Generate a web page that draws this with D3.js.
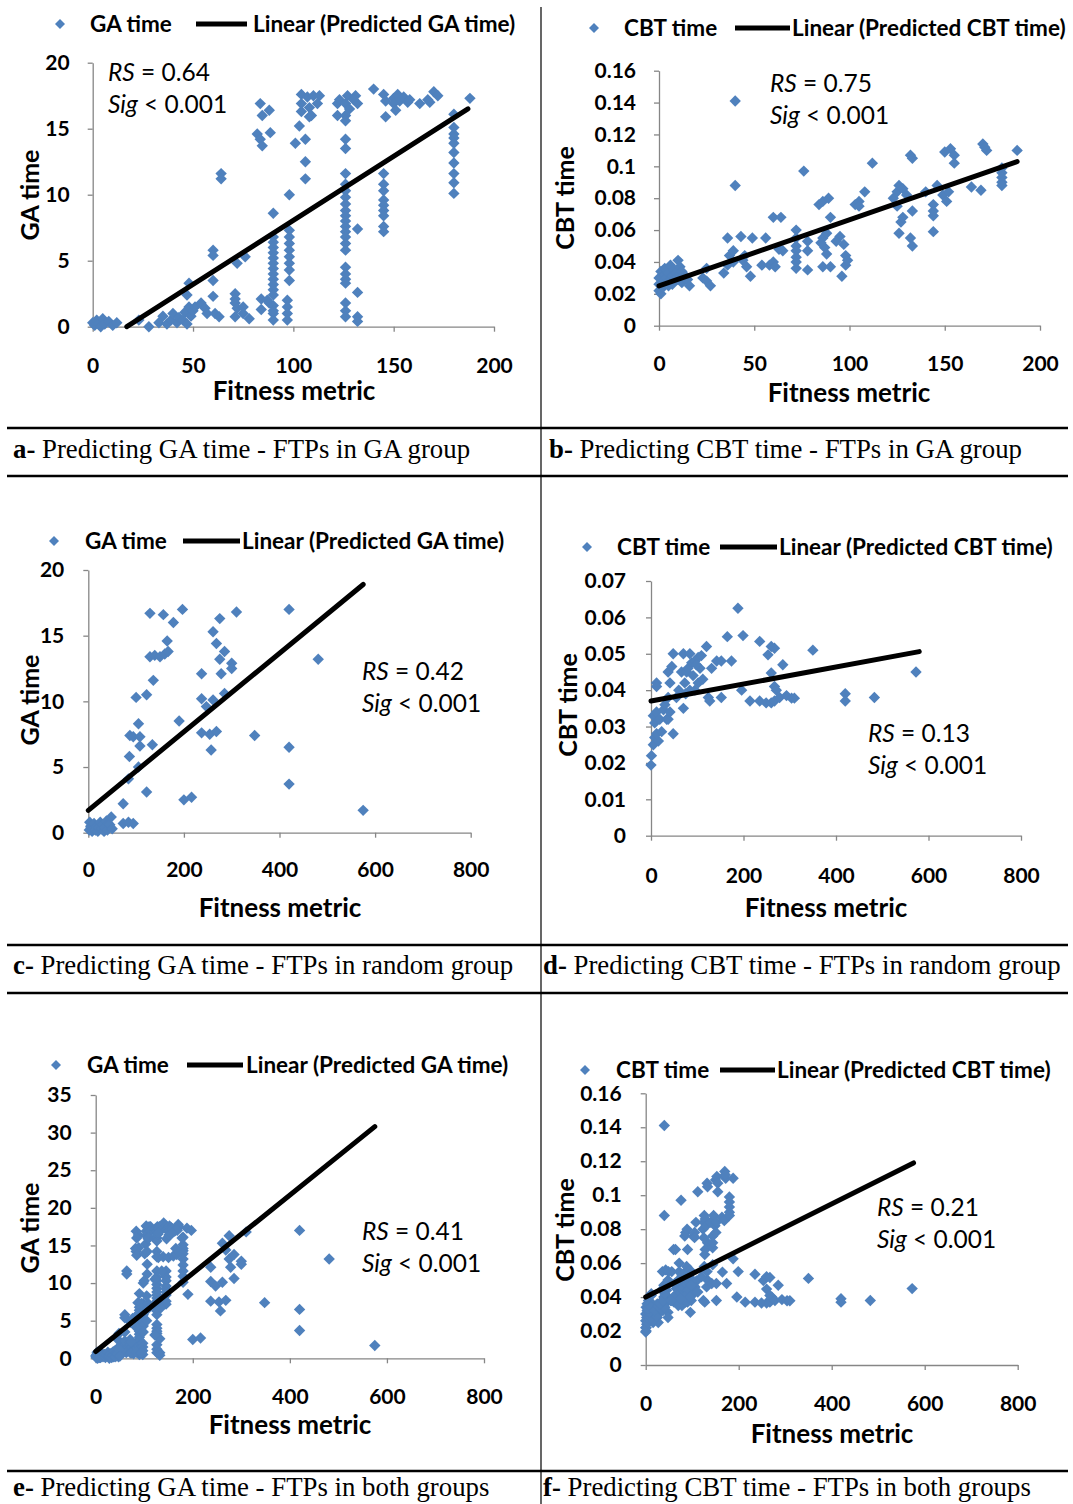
<!DOCTYPE html>
<html>
<head>
<meta charset="utf-8">
<script src="https://cdn.jsdelivr.net/npm/d3@7"></script>
<style>
  body { margin: 0; background: #fff; }
  svg { display: block; }
</style>
</head>
<body>
<svg id="fig" width="1073" height="1504"></svg>
<script>
// ---- Observed run times vs. fitness metric, FTPs in the GA group ----
const gaTimeGAGroup = [
  [0,0.3],[1,0.1],[2,0.5],[3,0.2],[4,0.0],[5,0.6],[6,0.2],[8,0.4],[10,0.1],[12,0.3],
  [23,0.5],[28,0.0],
  [33,0.3],[35,0.8],[37,0.2],[39,0.5],[40,1.0],[42,0.3],[43,0.7],[45,0.5],[46,1.1],[47,0.2],[47,2.4],[48,3.3],[48,1.5],[49,0.8],[50,1.2],[51,1.5],
  [54,1.8],[56,1.4],[57,1.0],[60,3.5],[60,2.3],[60,5.8],[60,5.4],[61,1.0],[63,0.75],[64,11.6],[64,11.2],
  [71,2.5],[71,2.1],[71,1.8],[72,1.4],[71,0.75],[72,4.8],[75,1.5],[75,1.0],[76,5.3],[78,0.6],
  [84,2.1],[84,1.3],[87,2.0],[88,1.8],[90,1.0],[90,0.5],
  [83.5,16.9],[88,16.4],[84.5,16.0],[82,14.6],[88.5,14.7],[83.5,14.2],[84.5,13.7],
  [90,8.6],[90,6.8],[90,6.4],[90,6.0],[90,5.6],[90,5.2],[90,4.8],[90,4.4],[90,4.0],[90,3.6],[90,3.2],[90,2.8],[90,2.4],[90,1.6],[90,1.2],
  [98,10.0],[98,7.3],[98,6.8],[98,6.3],[98,5.8],[98,5.3],[98,4.8],[98,4.3],[98,3.5],[97,2.0],[97,1.5],[97,1.0],[97,0.5],
  [101,13.9],[103,15.2],[104,16.3],[104,17.6],[104,16.9],[106,14.2],[106,12.5],[106,11.2],[107,17.4],[108,16.6],[108,15.9],[110,17.5],[113,17.5],[112,16.9],[109,16.0],
  [122,16.9],[122,16.0],[123,17.2],[127,17.5],[126,16.9],[126,16.0],[126,15.6],[126,14.2],[126,13.5],[131,17.5],[132,16.9],[130,17.2],[128,16.5],
  [126,11.6],[126,10.8],[126,10.3],[126,9.8],[126,9.3],[126,8.8],[126,8.4],[126,8.0],[126,7.6],[126,7.2],[126,6.8],[126,6.3],[126,5.8],[126,4.5],[126,4.0],[126,3.6],[126,3.3],[126,1.8],[126,1.2],[126,0.75],
  [132,7.4],[132,2.6],[132,0.75],[132,0.4],
  [140,18.0],
  [145,11.6],[145,10.8],[145,10.3],[145,9.6],[145,9.2],[145,8.8],[145,8.4],[145,7.6],[145,7.2],[146,15.9],[145,17.6],[146,17.1],
  [150,17.3],[152,17.6],[153,17.1],[155,17.4],[157,17.0],[150,16.9],[151,16.4],[158,17.2],
  [163,16.9],[167,17.2],[170,17.8],[172,17.5],[168,17.0],
  [180,16.1],[180,15.1],[180,14.6],[180,14.3],[180,13.9],[180,13.2],[180,12.4],[180,11.6],[180,10.9],[180,10.1],
  [188,17.3]
];

const cbtTimeGAGroup = [
  [0,0.022],[0,0.026],[0,0.030],[1,0.034],[1,0.020],[2,0.028],[2,0.024],[3,0.032],[3,0.036],[4,0.027],
  [4,0.030],[5,0.025],[5,0.033],[6,0.038],[6,0.029],[7,0.031],[7,0.026],[8,0.035],[8,0.028],[9,0.033],
  [9,0.030],[10,0.041],[10,0.029],[11,0.037],[11,0.032],[12,0.034],[12,0.027],[13,0.030],[14,0.031],[15,0.029],[16,0.025],
  [23,0.030],[25,0.028],[27,0.025],[25,0.036],
  [34,0.033],[36,0.038],[36,0.055],[37,0.044],[39,0.047],[39,0.040],[40,0.141],[40,0.088],
  [43,0.056],[44,0.041],[46,0.037],[48,0.031],[49,0.055],[45,0.044],
  [54,0.038],[56,0.055],[58,0.038],[60,0.040],[61,0.037],[60,0.068],[64,0.068],[63,0.048],[65,0.047],
  [72,0.060],[72,0.055],[72,0.050],[72,0.047],[72,0.043],[72,0.040],[72,0.036],
  [76,0.097],[78,0.053],[78,0.047],[78,0.035],
  [84,0.076],[86,0.078],[89,0.080],[86,0.055],[87,0.049],[88,0.045],[86,0.037],[90,0.037],[90,0.068],[88,0.058],[85,0.052],
  [95,0.056],[97,0.051],[98,0.044],[98,0.038],[96,0.031],[93,0.053],[99,0.041],
  [103,0.076],[105,0.078],[105,0.075],[108,0.084],[112,0.102],
  [123,0.080],[125,0.084],[126,0.088],[128,0.086],[127,0.065],[126,0.058],[133,0.072],[132,0.055],[133,0.050],[125,0.075],[130,0.082],[128,0.068],
  [132,0.107],[133,0.105],
  [140,0.084],[144,0.076],[144,0.069],[144,0.059],[146,0.088],[144,0.072],
  [149,0.082],[152,0.084],[150,0.109],[153,0.111],[155,0.107],[155,0.102],[151,0.078],
  [164,0.087],[169,0.085],[170,0.114],[172,0.110],[171,0.112],
  [180,0.099],[180,0.096],[180,0.093],[180,0.090],[180,0.088],
  [188,0.110]
];

// ---- FTPs in the random group ----
const gaTimeRandomGroup = [
  [2,0.2],[3,0.8],[5,0.5],[6,0.4],[8,0.1],[10,0.3],[12,0.7],[15,0.2],[18,0.5],[20,0.1],[22,0.4],[25,0.8],
  [28,0.3],[30,0.6],[33,0.1],[35,0.4],[38,0.9],[40,0.2],[42,0.7],[45,0.6],[48,1.2],[50,0.3],
  [73,0.7],[84,0.8],[94,0.7],[73,2.2],[86,5.8],[84,4.1],[87,7.4],[94,7.3],[108,7.3],[105,8.3],[108,6.6],[105,5.0],
  [100,10.3],[122,10.5],[122,3.1],[136,11.6],[134,6.7],[129,13.4],[139,13.5],[150,13.4],[160,13.6],[167,13.8],
  [165,14.6],[178,16.0],[129,16.7],[157,16.6],[197,17.0],[190,8.5],[200,2.5],[216,2.7],
  [237,12.1],[237,10.2],[237,7.6],[247,9.6],[254,7.5],[268,7.7],[257,6.3],[261,15.3],[261,10.1],[268,14.4],
  [275,16.3],[275,13.2],[278,12.1],[285,13.8],[285,10.6],[300,12.9],[300,12.5],[310,16.8],[348,7.4],
  [420,17.0],[420,6.5],[420,3.7],[481,13.2],[575,1.7]
];

const cbtTimeRandomGroup = [
  [0,0.0194],[1,0.022],[5,0.025],[8,0.027],[16,0.026],[12,0.028],[23,0.0286],[8,0.031],[5,0.033],[12,0.034],
  [19,0.032],[34,0.032],[27,0.0346],[37,0.032],[41,0.034],[12,0.042],[12,0.041],[48,0.028],[30,0.036],[37,0.038],
  [41,0.042],[37,0.045],[45,0.0465],[48,0.050],[70,0.050],[84,0.050],
  [66,0.045],[73,0.042],[77,0.045],[80,0.046],[88,0.0475],[95,0.048],[102,0.049],[109,0.0495],[91,0.044],[102,0.042],
  [84,0.040],[70,0.035],[95,0.040],[106,0.046],[60,0.040],[55,0.038],[75,0.039],[98,0.047],[112,0.043],
  [120,0.052],[124,0.038],[127,0.037],[131,0.046],[142,0.048],[152,0.048],[174,0.048],[152,0.038],[165,0.0547],
  [188,0.0625],[196,0.040],[199,0.055],[214,0.037],[235,0.0534],[235,0.037],[249,0.0365],[260,0.0365],[267,0.037],
  [253,0.0497],[260,0.052],[267,0.0515],[260,0.0447],[267,0.041],[271,0.040],[278,0.038],[293,0.0385],[304,0.0378],
  [310,0.0378],[285,0.047],[350,0.051],[420,0.039],[420,0.037],[483,0.038],[573,0.045]
];

// ---- Both groups together ----
const gaTimeBothGroups = gaTimeGAGroup.concat(gaTimeRandomGroup);
const cbtTimeBothGroups = cbtTimeGAGroup.concat(cbtTimeRandomGroup);

// Linear trend of predicted times: visible start and end points
const trendGAGroupGA = [[17,0],[187,16.5]];
const trendGAGroupCBT = [[0,0.025],[188,0.103]];
const trendRandomGA = [[0,1.7],[575,18.9]];
const trendRandomCBT = [[0,0.037],[580,0.0506]];
const trendBothGA = [[0,0.9],[575,30.8]];
const trendBothCBT = [[0,0.040],[576,0.119]];

// Axis ticks and their labels
const xTicksGA = [0,50,100,150,200];
const xTickLabelsGA = ["0","50","100","150","200"];
const xTicksWide = [0,200,400,600,800];
const xTickLabelsWide = ["0","200","400","600","800"];
const yTicksGA20 = [0,5,10,15,20];
const yTickLabelsGA20 = ["0","5","10","15","20"];
const yTicksGA35 = [0,5,10,15,20,25,30,35];
const yTickLabelsGA35 = ["0","5","10","15","20","25","30","35"];
const yTicksCBT16 = [0,0.02,0.04,0.06,0.08,0.1,0.12,0.14,0.16];
const yTickLabelsCBT16 = ["0","0.02","0.04","0.06","0.08","0.1","0.12","0.14","0.16"];
const yTicksCBT07 = [0,0.01,0.02,0.03,0.04,0.05,0.06,0.07];
const yTickLabelsCBT07 = ["0","0.01","0.02","0.03","0.04","0.05","0.06","0.07"];

// Regression statistics per panel
const rsValues = ["0.64","0.75","0.42","0.13","0.41","0.21"];
const sigValues = ["0.001","0.001","0.001","0.001","0.001","0.001"];

// Panel captions
const captionLetters = ["a-","b-","c-","d-","e-","f-"];
const captionTexts = [
  " Predicting GA time - FTPs in GA group",
  " Predicting CBT time - FTPs in GA group",
  " Predicting GA time - FTPs in random group",
  " Predicting CBT time - FTPs in random group",
  " Predicting GA time - FTPs in both groups",
  " Predicting CBT time - FTPs in both groups"
];

const BLUE = "#4F81BD";
const AXIS = "#868686";
const SANS = "Lato, 'Open Sans', sans-serif";
const SERIF = "'Liberation Serif', 'Times New Roman', serif";

const svg = d3.select("#fig");

const panels = [
  { data: gaTimeGAGroup, trend: trendGAGroupGA, series: "GA time", ytitle: "GA time",
    xDomain: [0,200], xTicks: xTicksGA, xLabels: xTickLabelsGA,
    yDomain: [0,20], yTicks: yTicksGA20, yLabels: yTickLabelsGA20,
    left: 92.7, right: 494, top: 62.7, bottom: 326.7, xPad: 26, yPad: 18,
    legend: { y: 24, dot: 60, s1: 90, l0: 196, l1: 247, s2: 253 },
    xTitle: [294, 400], yTitle: [30, 195], stat: [108, 81], cap: [13, 458] },
  { data: cbtTimeGAGroup, trend: trendGAGroupCBT, series: "CBT time", ytitle: "CBT time",
    xDomain: [0,200], xTicks: xTicksGA, xLabels: xTickLabelsGA,
    yDomain: [0,0.16], yTicks: yTicksCBT16, yLabels: yTickLabelsCBT16,
    left: 659, right: 1040, top: 70.7, bottom: 325.7, xPad: 25, yPad: 18,
    legend: { y: 28, dot: 594, s1: 624, l0: 735, l1: 790, s2: 792 },
    xTitle: [849, 402], yTitle: [565, 198], stat: [770, 92], cap: [549, 458] },
  { data: gaTimeRandomGroup, trend: trendRandomGA, series: "GA time", ytitle: "GA time",
    xDomain: [0,800], xTicks: xTicksWide, xLabels: xTickLabelsWide,
    yDomain: [0,20], yTicks: yTicksGA20, yLabels: yTickLabelsGA20,
    left: 88.3, right: 470.7, top: 570, bottom: 832.7, xPad: 24, yPad: 19,
    legend: { y: 541, dot: 54, s1: 85, l0: 183, l1: 240, s2: 242 },
    xTitle: [280, 917], yTitle: [30, 700], stat: [362, 680], cap: [13, 974] },
  { data: cbtTimeRandomGroup, trend: trendRandomCBT, series: "CBT time", ytitle: "CBT time",
    xDomain: [0,800], xTicks: xTicksWide, xLabels: xTickLabelsWide,
    yDomain: [0,0.07], yTicks: yTicksCBT07, yLabels: yTickLabelsCBT07,
    left: 651, right: 1021, top: 581, bottom: 835.7, xPad: 27, yPad: 20,
    legend: { y: 547, dot: 587, s1: 617, l0: 720, l1: 777, s2: 779 },
    xTitle: [826, 917], yTitle: [568, 705], stat: [868, 742], cap: [543, 974] },
  { data: gaTimeBothGroups, trend: trendBothGA, series: "GA time", ytitle: "GA time",
    xDomain: [0,800], xTicks: xTicksWide, xLabels: xTickLabelsWide,
    yDomain: [0,35], yTicks: yTicksGA35, yLabels: yTickLabelsGA35,
    left: 95.7, right: 484, top: 1095, bottom: 1358.3, xPad: 26, yPad: 19,
    legend: { y: 1065, dot: 56, s1: 87, l0: 187, l1: 243, s2: 246 },
    xTitle: [290, 1434], yTitle: [30, 1228], stat: [362, 1240], cap: [13, 1496] },
  { data: cbtTimeBothGroups, trend: trendBothCBT, series: "CBT time", ytitle: "CBT time",
    xDomain: [0,800], xTicks: xTicksWide, xLabels: xTickLabelsWide,
    yDomain: [0,0.16], yTicks: yTicksCBT16, yLabels: yTickLabelsCBT16,
    left: 645.7, right: 1017.7, top: 1093.3, bottom: 1365, xPad: 26, yPad: 19,
    legend: { y: 1070, dot: 585, s1: 616, l0: 720, l1: 775, s2: 777 },
    xTitle: [832, 1443], yTitle: [565, 1230], stat: [877, 1216], cap: [543, 1496] }
];

// Excel-style diamond marker
const diamond = r => `M0,${-r}L${r},0L0,${r}L${-r},0Z`;

function styleAxis(sel) {
  sel.select(".domain").attr("stroke", AXIS).attr("stroke-width", 1.3);
  sel.selectAll(".tick line").attr("stroke", AXIS).attr("stroke-width", 1.3);
  sel.selectAll(".tick text")
    .attr("fill", "#000")
    .style("font-family", SANS)
    .style("font-size", "21px")
    .style("font-weight", "700");
}

panels.forEach((p, i) => {
  const x = d3.scaleLinear().domain(p.xDomain).range([p.left, p.right]);
  const y = d3.scaleLinear().domain(p.yDomain).range([p.bottom, p.top]);
  const g = svg.append("g").attr("class", "panel");

  g.append("g")
    .attr("transform", `translate(0,${p.bottom})`)
    .call(d3.axisBottom(x).tickValues(p.xTicks).tickFormat((d, k) => p.xLabels[k])
      .tickSizeInner(5).tickSizeOuter(0).tickPadding(p.xPad))
    .call(styleAxis);

  g.append("g")
    .attr("transform", `translate(${p.left},0)`)
    .call(d3.axisLeft(y).tickValues(p.yTicks).tickFormat((d, k) => p.yLabels[k])
      .tickSizeInner(5).tickSizeOuter(0).tickPadding(p.yPad))
    .call(styleAxis);

  // observations
  g.append("g").selectAll("path").data(p.data).join("path")
    .attr("d", diamond(5.7))
    .attr("transform", d => `translate(${x(d[0])},${y(d[1])})`)
    .attr("fill", BLUE);

  // linear trend
  g.append("line")
    .attr("x1", x(p.trend[0][0])).attr("y1", y(p.trend[0][1]))
    .attr("x2", x(p.trend[1][0])).attr("y2", y(p.trend[1][1]))
    .attr("stroke", "#000").attr("stroke-width", 5).attr("stroke-linecap", "round");

  // legend
  const L = p.legend;
  const lg = g.append("g").style("font-family", SANS).style("font-size", "22.5px").style("font-weight", "700");
  lg.append("path").attr("d", diamond(5)).attr("transform", `translate(${L.dot},${L.y})`).attr("fill", BLUE);
  lg.append("text").attr("x", L.s1).attr("y", L.y).attr("dy", "0.35em").text(p.series);
  lg.append("line").attr("x1", L.l0).attr("x2", L.l1).attr("y1", L.y).attr("y2", L.y)
    .attr("stroke", "#000").attr("stroke-width", 5);
  lg.append("text").attr("x", L.s2).attr("y", L.y).attr("dy", "0.35em")
    .text(`Linear (Predicted ${p.series})`);

  // axis titles
  g.append("text").attr("x", p.xTitle[0]).attr("y", p.xTitle[1]).attr("text-anchor", "middle")
    .style("font-family", SANS).style("font-size", "26px").style("font-weight", "700")
    .text("Fitness metric");
  g.append("text")
    .attr("transform", `translate(${p.yTitle[0]},${p.yTitle[1]}) rotate(-90)`)
    .attr("text-anchor", "middle").attr("dy", "0.35em")
    .style("font-family", SANS).style("font-size", "25px").style("font-weight", "700")
    .text(p.ytitle);

  // regression statistics
  const st = g.append("g").style("font-family", SANS).style("font-size", "24.5px");
  const t1 = st.append("text").attr("x", p.stat[0]).attr("y", p.stat[1]);
  t1.append("tspan").style("font-style", "italic").text("RS");
  t1.append("tspan").text(` = ${rsValues[i]}`);
  const t2 = st.append("text").attr("x", p.stat[0]).attr("y", p.stat[1] + 32);
  t2.append("tspan").style("font-style", "italic").text("Sig");
  t2.append("tspan").text(` < ${sigValues[i]}`);

  // caption
  const cap = svg.append("text").attr("x", p.cap[0]).attr("y", p.cap[1])
    .style("font-family", SERIF).style("font-size", "26.8px");
  cap.append("tspan").style("font-weight", "700").text(captionLetters[i]);
  cap.append("tspan").text(captionTexts[i]);
});

// table rules framing the captions
const rules = [428, 476, 945, 993, 1471];
svg.append("g").selectAll("line").data(rules).join("line")
  .attr("x1", 7).attr("x2", 1068).attr("y1", d => d).attr("y2", d => d)
  .attr("stroke", "#000").attr("stroke-width", 2.6);
svg.append("line").attr("x1", 541).attr("x2", 541).attr("y1", 7).attr("y2", 1504)
  .attr("stroke", "#000").attr("stroke-width", 1.2);
</script>
</body>
</html>
